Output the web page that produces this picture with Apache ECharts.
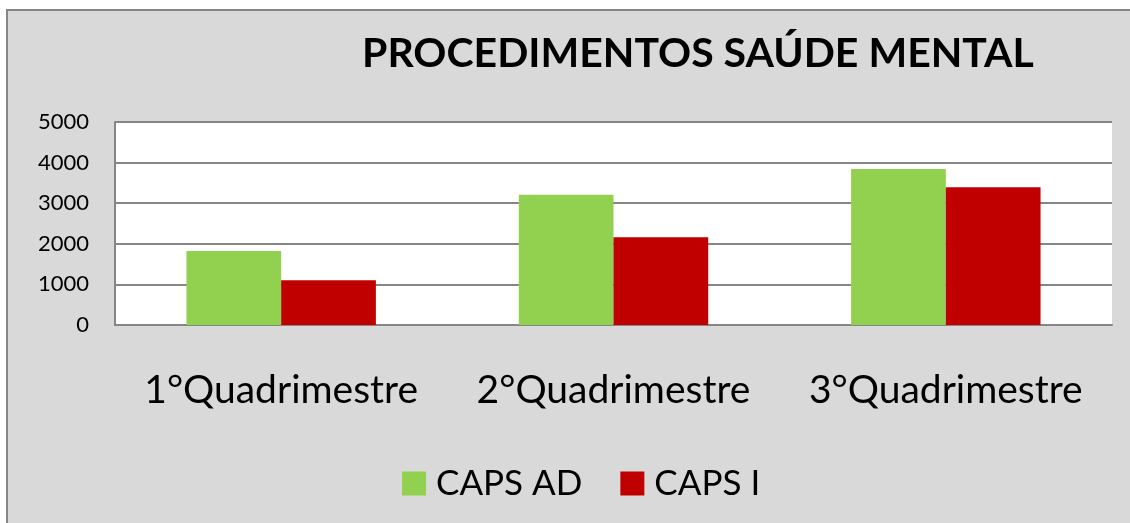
<!DOCTYPE html>
<html>
<head>
<meta charset="utf-8">
<script src="https://cdn.jsdelivr.net/npm/echarts@6/dist/echarts.min.js"></script>
<style>
html,body{margin:0;padding:0;background:#fff;}
#chart{width:1130px;height:523px;}
</style>
</head>
<body>
<div id="chart"></div>
<script>
const categories = ['1°Quadrimestre', '2°Quadrimestre', '3°Quadrimestre'];
const capsAD = [1820, 3210, 3840];
const capsI = [1100, 2160, 3390];
const seriesNames = ['CAPS AD', 'CAPS I'];
const titleText = 'PROCEDIMENTOS SAÚDE MENTAL';

const chart = echarts.init(document.getElementById('chart'), null, {renderer: 'canvas'});
const font = 'Lato, "Open Sans", sans-serif';
chart.setOption({
  backgroundColor: '#ffffff',
  animation: false,
  graphic: [{
    type: 'rect', z: -100, silent: true,
    shape: {x: 7, y: 10, width: 1200, height: 600},
    style: {fill: '#d9d9d9', stroke: '#868686', lineWidth: 2}
  }],
  title: {
    text: titleText,
    left: 357, top: 28,
    textStyle: {fontFamily: font, fontWeight: 'bold', fontSize: 41, color: '#000'}
  },
  legend: {
    data: seriesNames,
    left: 397, top: 461,
    itemWidth: 24, itemHeight: 24, itemGap: 38,
    icon: 'rect',
    textStyle: {fontFamily: font, fontSize: 35, color: '#000', padding: [0, 0, 0, 5]}
  },
  grid: {
    left: 115, top: 122, right: 18, bottom: 198,
    show: true, backgroundColor: '#ffffff', borderWidth: 0
  },
  xAxis: {
    type: 'category',
    data: categories,
    axisLine: {show: true, lineStyle: {color: '#868686', width: 2}},
    axisTick: {show: false},
    axisLabel: {fontFamily: font, fontSize: 39, color: '#000', margin: 46, interval: 0}
  },
  yAxis: {
    type: 'value',
    min: 0, max: 5000, interval: 1000,
    axisLine: {show: true, lineStyle: {color: '#868686', width: 2}},
    axisTick: {show: false},
    splitLine: {lineStyle: {color: '#868686', width: 2}},
    axisLabel: {fontFamily: font, fontSize: 22, color: '#000', margin: 26,
      formatter: function (v) { return String(v); }}
  },
  series: [
    {name: seriesNames[0], type: 'bar', data: capsAD, barGap: '0%', barCategoryGap: '43%',
     itemStyle: {color: '#92d050'}},
    {name: seriesNames[1], type: 'bar', data: capsI,
     itemStyle: {color: '#c00000'}}
  ]
});
</script>
</body>
</html>
